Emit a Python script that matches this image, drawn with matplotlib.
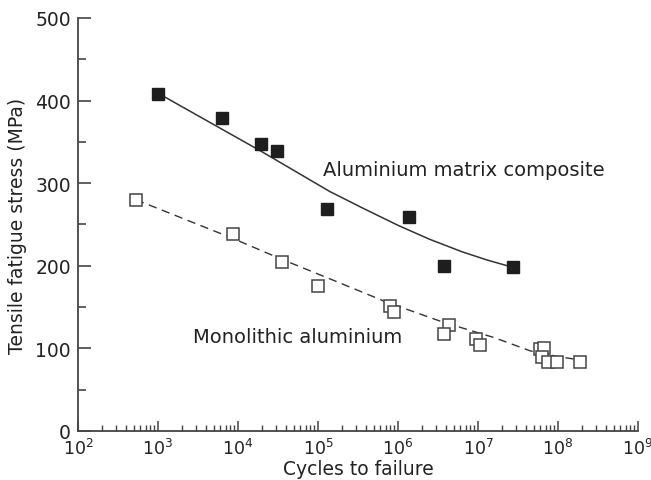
import matplotlib.pyplot as plt
from matplotlib.ticker import LogLocator, MultipleLocator, NullFormatter

plt.rcParams['font.family'] = 'DejaVu Sans'

# Данные: композит (закрашенные квадраты)
composite_cycles = [1.0e3, 6.4e3, 1.94e4, 3.05e4, 1.3e5, 1.36e6, 3.8e6, 2.76e7]
composite_stress = [408, 379, 347, 339, 269, 259, 200, 198]

# Данные: монолитный алюминий (пустые квадраты)
mono_cycles = [5.3e2, 8.7e3, 3.5e4, 1.0e5, 7.9e5, 8.9e5, 4.3e6, 3.8e6,
               9.4e6, 1.07e7, 5.9e7, 6.7e7, 6.3e7, 7.6e7, 9.6e7, 1.9e8]
mono_stress = [280, 238, 204, 176, 151, 144, 128, 118,
               111, 104, 99, 101, 89, 84, 84, 84]

# Линии тренда
composite_fit_cycles = [1.0e3, 2.0e4, 1.4e5, 3.6e5, 1.0e6, 2.5e6, 6.3e6, 1.3e7, 2.76e7]
composite_fit_stress = [409, 338, 290, 270, 249, 232, 217, 207, 198]

mono_fit_cycles = [5.3e2, 8.7e3, 3.5e4, 1.6e5, 7.2e5, 3.6e6, 1.6e7, 4.5e7, 1.0e8, 1.9e8]
mono_fit_stress = [280, 233, 208, 182, 156, 132, 113, 97, 90, 86]

fig = plt.figure(figsize=(6.51, 4.81), dpi=100)
ax = fig.add_axes([0.1198, 0.1019, 0.8602, 0.8586])

ink = '#333333'

ax.plot(composite_fit_cycles, composite_fit_stress, color=ink, linewidth=1.1, zorder=2)
ax.plot(mono_fit_cycles, mono_fit_stress, color=ink, linewidth=1.0,
        linestyle=(0, (6, 4)), zorder=2)

ax.plot(composite_cycles, composite_stress, linestyle='none', marker='s',
        markersize=8.5, markerfacecolor='#1e1e1e', markeredgecolor='#1e1e1e', zorder=3)
ax.plot(mono_cycles, mono_stress, linestyle='none', marker='s',
        markersize=8, markerfacecolor='white', markeredgecolor='#444444',
        markeredgewidth=1.1, zorder=3)

ax.text(1.15e5, 317, 'Aluminium matrix composite', fontsize=14, color='#222222',
        ha='left', va='center')
ax.text(2.75e3, 114, 'Monolithic aluminium', fontsize=14, color='#222222',
        ha='left', va='center')

ax.set_xscale('log')
ax.set_xlim(1e2, 1e9)
ax.set_ylim(0, 500)

ax.xaxis.set_major_locator(LogLocator(base=10, numticks=20))
ax.xaxis.set_minor_locator(LogLocator(base=10, subs=range(2, 10), numticks=20))
ax.xaxis.set_minor_formatter(NullFormatter())
ax.yaxis.set_major_locator(MultipleLocator(100))
ax.yaxis.set_minor_locator(MultipleLocator(50))

for side in ['top', 'right']:
    ax.spines[side].set_visible(False)
for side in ['left', 'bottom']:
    ax.spines[side].set_color('#444444')
    ax.spines[side].set_linewidth(1.3)

ax.tick_params(axis='y', which='major', direction='in', length=9, width=1.2,
               colors='#444444', labelcolor='#222222', labelsize=13.5, pad=5)
ax.tick_params(axis='y', which='minor', direction='in', length=5.5, width=1.2,
               colors='#444444')
ax.tick_params(axis='x', which='major', direction='in', length=7.5, width=1.1,
               colors='#444444', labelcolor='#222222', labelsize=12.5, pad=5)
ax.tick_params(axis='x', which='minor', direction='in', length=4, width=1.0,
               colors='#444444')

ax.set_xlabel('Cycles to failure', fontsize=13.5, color='#222222', labelpad=1)
ax.set_ylabel('Tensile fatigue stress (MPa)', fontsize=13.5, color='#222222', labelpad=6)

fig.savefig('out.png', dpi=100)
